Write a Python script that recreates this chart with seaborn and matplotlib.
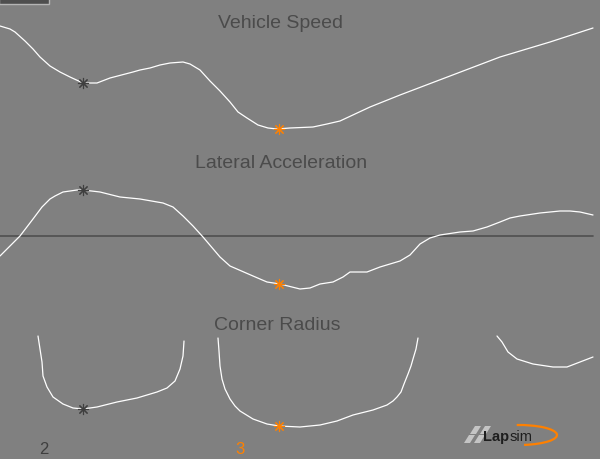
import numpy as np
import pandas as pd
import seaborn as sns
import matplotlib.pyplot as plt
from matplotlib.patches import Arc, Polygon, Rectangle

# distance along the lap (m) and channel values
speed_dist = [0, 10, 15, 25, 33, 40, 50, 60, 70, 83, 97, 110, 133, 140, 150, 160, 170,
              183, 190, 200, 210, 220, 230, 238, 247, 258, 268, 277, 290, 313, 327,
              340, 370, 400, 450, 500, 550, 593]
speed_kmh = [123, 120, 117, 108, 100, 92, 83, 77, 72, 66, 66, 71, 77, 79, 81, 84, 86,
             87, 85, 79, 68, 58, 47, 37, 31, 24, 21, 20, 21, 22, 25, 28, 42, 54, 73,
             92, 107, 121]

lat_dist = [0, 20, 33, 42, 46, 50, 55, 63, 77, 83, 100, 120, 140, 163, 173, 183, 193,
            203, 220, 230, 253, 267, 280, 300, 310, 320, 333, 343, 350, 367, 380, 400,
            410, 420, 430, 440, 460, 473, 487, 500, 510, 520, 540, 560, 570, 580, 593]
lat_g = [-0.40, 0.0, 0.34, 0.58, 0.66, 0.74, 0.80, 0.88, 0.92, 0.92, 0.88, 0.78,
         0.74, 0.66, 0.58, 0.40, 0.20, -0.02, -0.42, -0.60, -0.80, -0.92, -0.96,
         -1.06, -1.04, -0.96, -0.92, -0.82, -0.72, -0.72, -0.62, -0.50, -0.38,
         -0.16, -0.04, 0.02, 0.08, 0.10, 0.18, 0.28, 0.36, 0.40, 0.46, 0.50, 0.50,
         0.48, 0.42]

# corner radius only exists inside corners -> three separate pieces
rad1_dist = [38, 40, 42, 43, 47, 53, 63, 73, 83, 97, 117, 137, 157, 167, 175, 180,
             183, 184]
rad1_m = [123, 110, 97, 83, 72, 62, 55, 51, 50, 52, 57, 61, 67, 71, 78, 90, 103, 118]
rad2_dist = [218, 219, 220, 222, 225, 230, 235, 240, 253, 267, 279, 300, 320, 337,
             353, 373, 387, 393, 397, 401, 404, 408, 411, 413, 416, 418]
rad2_m = [121, 108, 93, 80, 70, 60, 53, 48, 40, 35, 33, 32, 34, 38, 44, 49, 54, 58,
          62, 67, 75, 85, 93, 100, 110, 121]
rad3_dist = [497, 502, 508, 517, 533, 553, 567, 580, 593]
rad3_m = [123, 117, 107, 100, 95, 92, 92, 97, 102]

# selected corners
corner_labels = ["2", "3"]
corner_dist = [83, 279]
corner_speed = [66, 20]
corner_lat = [0.92, -0.96]
corner_rad = [50, 33]
corner_colors = ["#3f3f3f", "#ff8000"]

BG = "#808080"
TITLE = "#4b4b4b"

sns.set_theme(style="white")
plt.rcParams["font.family"] = ["Liberation Sans", "DejaVu Sans"]

fig = plt.figure(figsize=(6, 4.6), dpi=100, facecolor=BG)
H = 460.0
ax_spd = fig.add_axes([0, (H - 150) / H, 1, 150 / H])
ax_lat = fig.add_axes([0, (H - 310) / H, 1, 160 / H])
ax_rad = fig.add_axes([0, 0, 1, 150 / H])

for ax in (ax_spd, ax_lat, ax_rad):
    ax.set_xlim(0, 600)
    ax.set_axis_off()

ax_spd.set_ylim(0, 150)
ax_lat.set_ylim(-1.46, 1.74)
ax_rad.set_ylim(0, 150)

line_kw = dict(color="white", linewidth=0.9, sort=False, estimator=None)

sns.lineplot(x=speed_dist, y=speed_kmh, ax=ax_spd, **line_kw)

ax_lat.axhline(0, xmin=0, xmax=593 / 600, color="#4f4f4f", linewidth=1.2)
sns.lineplot(x=lat_dist, y=lat_g, ax=ax_lat, **line_kw)

for d, r in [(rad1_dist, rad1_m), (rad2_dist, rad2_m), (rad3_dist, rad3_m)]:
    sns.lineplot(x=d, y=r, ax=ax_rad, **line_kw)

# corner markers
for i in range(len(corner_dist)):
    mk = dict(marker=(8, 2, 0), markersize=8, markeredgewidth=0.8,
              color=corner_colors[i], linestyle="none", zorder=5)
    ax_spd.plot(corner_dist[i], corner_speed[i], **mk)
    ax_lat.plot(corner_dist[i], corner_lat[i], **mk)
    ax_rad.plot(corner_dist[i], corner_rad[i], **mk)
    fig.text((corner_dist[i] - 39) / 600, 1 - 450 / H, corner_labels[i],
             color=corner_colors[i], fontsize=12, ha="center", va="center")

# panel titles
ax_spd.text(0.467, 0.84, "Vehicle Speed", transform=ax_spd.transAxes,
            ha="center", va="center", fontsize=14, color=TITLE)
ax_lat.text(0.468, 0.9125, "Lateral Acceleration", transform=ax_lat.transAxes,
            ha="center", va="center", fontsize=14, color=TITLE)
ax_rad.text(0.462, 0.90, "Corner Radius", transform=ax_rad.transAxes,
            ha="center", va="center", fontsize=14, color=TITLE)

# overlay in pixel space for the small decorations
deco = fig.add_axes([0, 0, 1, 1])
deco.set_xlim(0, 600)
deco.set_ylim(460, 0)
deco.set_axis_off()
deco.patch.set_alpha(0)

deco.add_patch(Rectangle((-1, -1), 50, 5.5, facecolor="#4e4e4e",
                         edgecolor="#b4b4b4", linewidth=1))

# Lapsim logo
flag = "#c4c4c4"
for (x0, y0) in [(470, 427), (480, 427), (464, 436), (474, 436)]:
    deco.add_patch(Polygon([(x0 + 5, y0), (x0 + 11, y0), (x0 + 6, y0 + 8),
                            (x0, y0 + 8)], closed=True, facecolor=flag,
                           edgecolor="none"))
deco.text(483, 437, "Lap", fontsize=10.5, fontweight="bold", color="#1e1e1e",
          ha="left", va="center")
deco.text(509.5, 437, "sim", fontsize=10.5, color="#1e1e1e", ha="left", va="center")
deco.add_patch(Arc((519, 436), 76, 20, theta1=257, theta2=63,
                   color="#ff8000", linewidth=1.6))

fig.savefig("out.png", dpi=100, facecolor=BG)
